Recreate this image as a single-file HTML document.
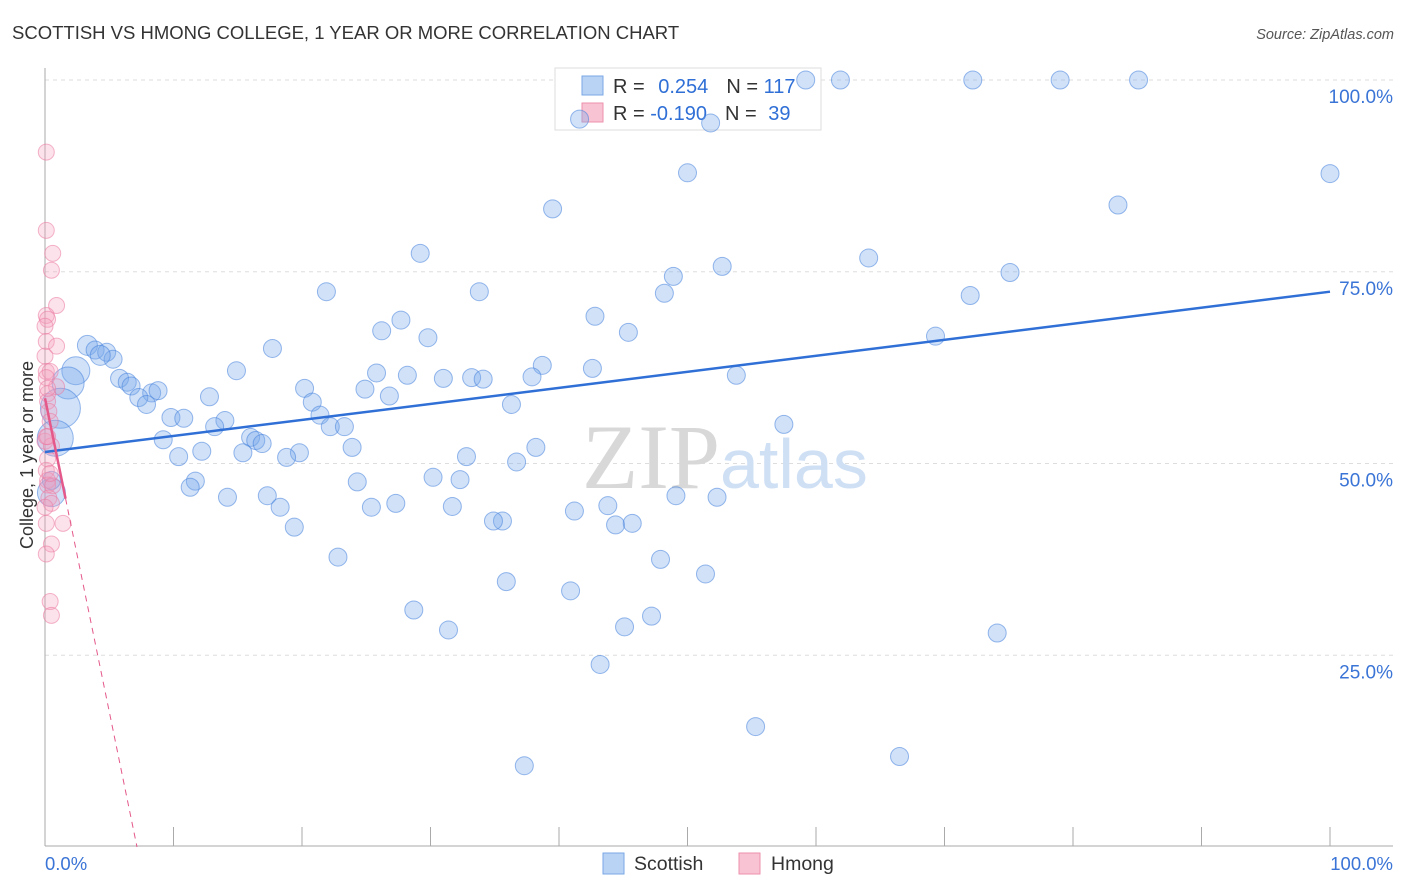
<!DOCTYPE html>
<html><head><meta charset="utf-8"><style>
body{margin:0;background:#fff;font-family:"Liberation Sans",sans-serif;}
svg{display:block}
</style></head><body>
<svg width="1406" height="892" xmlns="http://www.w3.org/2000/svg">
<text x="12" y="39" font-size="18.5" fill="#333">SCOTTISH VS HMONG COLLEGE, 1 YEAR OR MORE CORRELATION CHART</text>
<text x="1394" y="39" font-size="14.5" fill="#555" font-style="italic" text-anchor="end">Source: ZipAtlas.com</text>
<g id="grid"></g>
<text x="720" y="488" font-size="92" fill="#d8d8d8" text-anchor="end" font-family="Liberation Serif">ZIP</text>
<text x="720" y="488" font-size="70" fill="#cfe0f5">atlas</text>
<g>
<rect x="555" y="68" width="266" height="62" fill="#fff" stroke="#ddd"/>
<rect x="582" y="76" width="21" height="19" fill="#b9d3f5" stroke="#7aa7e6"/>
<rect x="582" y="103" width="21" height="19" fill="#f8c3d3" stroke="#ee92ae"/>
<text x="613" y="93" font-size="20" fill="#333">R = <tspan fill="#2f6fd6" dx="8">0.254</tspan><tspan dx="18" fill="#333">N = </tspan><tspan fill="#2f6fd6">117</tspan></text>
<text x="613" y="120" font-size="20" fill="#333">R = <tspan fill="#2f6fd6">-0.190</tspan><tspan dx="18" fill="#333">N = </tspan><tspan fill="#2f6fd6" dx="6">39</tspan></text>
</g>
<g id="pts"></g>
<g id="lines"></g>
<text x="33" y="455" font-size="18" fill="#333" text-anchor="middle" transform="rotate(-90 33 455)">College, 1 year or more</text>
<text x="45" y="870" font-size="18.5" fill="#3a74d6">0.0%</text>
<text x="1393" y="870" font-size="18.5" fill="#3a74d6" text-anchor="end">100.0%</text>
<g>
<rect x="603" y="853" width="21" height="21" fill="#b9d3f5" stroke="#7aa7e6"/>
<text x="634" y="870" font-size="19.5" fill="#333">Scottish</text>
<rect x="739" y="853" width="21" height="21" fill="#f8c3d3" stroke="#ee92ae"/>
<text x="771" y="870" font-size="19.5" fill="#333">Hmong</text>
</g>
</svg>
<script>
const yTicks=[25,50,75,100];
const yTickLabels=["25.0%","50.0%","75.0%","100.0%"];
const xTickVals=[0,10,20,30,40,50,60,70,80,90,100];
const scottishX=[59.2,61.9,72.2,79,85.1,41.6,51.8,50,100,39.5,83.5,29.2,64.1,52.7,48.9,75.1,21.9,33.8,48.2,72,42.8,27.7,26.2,45.4,29.8,69.3,17.7,3.3,3.9,4.8,5.3,4.3,2.4,1.8,1.2,0.8,0.5,14.9,38.7,42.6,31,25.8,28.2,33.2,34.1,37.9,53.8,20.2,24.9,26.8,5.8,6.4,6.7,8.3,8.8,7.3,7.9,12.8,20.8,36.3,21.4,9.8,10.8,14,13.2,22.2,23.3,57.5,9.2,16,16.4,16.9,23.9,38.2,15.4,12.2,10.4,19.8,18.8,32.8,36.7,11.7,24.3,30.2,32.3,11.3,14.2,17.3,49.1,52.3,25.4,41.2,43.8,19.4,27.3,31.7,18.3,35.6,34.9,44.4,45.7,22.8,47.9,51.4,35.9,40.9,28.7,47.2,45.1,31.4,74.1,43.2,55.3,66.5,37.3,0.5];
const scottishY=[100,100,100,100,100,94.9,94.4,87.9,87.8,83.2,83.7,77.4,76.8,75.7,74.4,74.9,72.4,72.4,72.2,71.9,69.2,68.7,67.3,67.1,66.4,66.6,65,65.4,64.8,64.5,63.6,64.1,62.1,60.5,57.2,53.3,46.2,62.1,62.8,62.4,61.1,61.8,61.5,61.2,61,61.3,61.5,59.8,59.7,58.8,61.1,60.6,60.1,59.2,59.5,58.6,57.7,58.7,58,57.7,56.3,56,55.9,55.6,54.8,54.8,54.8,55.1,53.1,53.4,53,52.6,52.1,52.1,51.4,51.6,50.9,51.4,50.8,50.9,50.2,47.7,47.6,48.2,47.9,46.9,45.6,45.8,45.8,45.6,44.3,43.8,44.5,41.7,44.8,44.4,44.3,42.5,42.5,42,42.2,37.8,37.5,35.6,34.6,33.4,30.9,30.1,28.7,28.3,27.9,23.8,15.7,11.8,10.6,47.8];
const scottishR=[9,9,9,9,9,9,9,9,9,9,9,9,9,9,9,9,9,9,9,9,9,9,9,9,9,9,9,10,9,9,9,10,14,16,20,18,14,9,9,9,9,9,9,9,9,9,9,9,9,9,9,9,9,9,9,9,9,9,9,9,9,9,9,9,9,9,9,9,9,9,9,9,9,9,9,9,9,9,9,9,9,9,9,9,9,9,9,9,9,9,9,9,9,9,9,9,9,9,9,9,9,9,9,9,9,9,9,9,9,9,9,9,9,9,9,9,9,12];
const hmongX=[0.1,0.1,0.6,0.5,0.9,0.1,0.2,0,0.1,0.9,0,0.1,0.4,0.9,0.2,0.2,0.3,0.4,0,0.5,0.2,0.1,0.2,0.2,0.6,0.3,0.5,1.4,0.5,0.1,0.4,0.5,0.1,0.2,0.1,0.4,0,0.1,0.2];
const hmongY=[90.6,80.4,77.4,75.2,70.6,69.3,68.8,67.9,65.9,65.3,64,62,62,60,59.1,58.1,56.8,55.5,52.9,52.3,50.6,49.1,47.8,47.2,47.1,45.5,44.8,42.2,39.5,38.2,32,30.2,61.2,59.8,53.5,48.7,44.3,42.2,53.5];
const blueLine=[51.5,72.4];
const pinkLine=[58.5,-8.17];
const NS="http://www.w3.org/2000/svg";
const X=v=>45+v*12.85, Y=v=>847-v*7.67;
function mk(t,a,p){const e=document.createElementNS(NS,t);for(const k in a)e.setAttribute(k,a[k]);p.appendChild(e);return e;}
const g=document.getElementById('grid');
yTicks.forEach((t,i)=>{
 const l=mk('line',{x1:45,x2:1393,y1:Y(t),y2:Y(t),stroke:'#ddd','stroke-dasharray':'4,4'},g);
 
 
 const tx=mk('text',{x:1393,y:Y(t)+23,'font-size':19,fill:'#3a74d6','text-anchor':'end'},g);
 tx.textContent=yTickLabels[i];
 
 
});
const ax=mk('line',{x1:45,x2:45,y1:68,y2:846,stroke:'#aaa'},g);


const bx=mk('line',{x1:45,x2:1393,y1:846,y2:846,stroke:'#aaa'},g);


xTickVals.forEach(v=>{
 const t=mk('line',{x1:X(v),x2:X(v),y1:827,y2:846,stroke:'#aaa'},g);
 
 
});
const p=document.getElementById('pts');
scottishX.forEach((v,i)=>{
 const c=mk('circle',{cx:X(v),cy:Y(scottishY[i]),r:scottishR[i],fill:'rgba(120,170,235,0.35)',stroke:'rgba(70,130,220,0.55)','stroke-width':1},p);
 
 
});
hmongX.forEach((v,i)=>{
 const c=mk('circle',{cx:X(v),cy:Y(hmongY[i]),r:8,fill:'rgba(245,160,190,0.3)',stroke:'rgba(235,120,160,0.55)','stroke-width':1},p);
 
 
});
const L=document.getElementById('lines');
const b=mk('line',{x1:X(0),y1:Y(blueLine[0]),x2:X(100),y2:Y(blueLine[1]),stroke:'#2f6fd6','stroke-width':2.5},L);


const pe=1.6, pz=-pinkLine[0]/pinkLine[1];
const ps=mk('line',{x1:X(0),y1:Y(pinkLine[0]),x2:X(pe),y2:Y(pinkLine[0]+pinkLine[1]*pe),stroke:'#e4588a','stroke-width':2.5},L);


const pd=mk('line',{x1:X(pe),y1:Y(pinkLine[0]+pinkLine[1]*pe),x2:X(pz),y2:Y(0),stroke:'#e4588a','stroke-width':1,'stroke-dasharray':'6,5'},L);


</script>
</body></html>
